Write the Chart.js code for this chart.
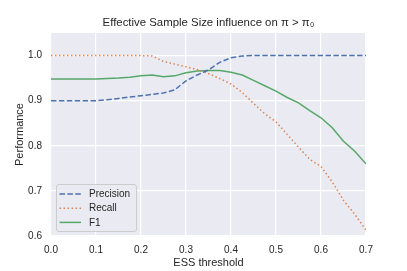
<!DOCTYPE html>
<html>
<head>
<meta charset="utf-8">
<script src="https://cdn.jsdelivr.net/npm/chart.js@4.4.0/dist/chart.umd.min.js"></script>
<style>
  html, body { margin: 0; padding: 0; background: #fff; }
  #chart { display: block; }
</style>
</head>
<body>
<canvas id="chart" width="407" height="271"></canvas>
<script>
const essThreshold = [0.000, 0.025, 0.050, 0.075, 0.100, 0.125, 0.150, 0.175, 0.200, 0.225,
  0.250, 0.275, 0.300, 0.325, 0.350, 0.375, 0.400, 0.425, 0.450, 0.475,
  0.500, 0.525, 0.550, 0.575, 0.600, 0.625, 0.650, 0.675, 0.700];
const precision = [0.900, 0.900, 0.900, 0.900, 0.900, 0.902, 0.905, 0.908, 0.911, 0.914,
  0.917, 0.924, 0.944, 0.957, 0.968, 0.985, 0.995, 0.999, 1.000, 1.000,
  1.000, 1.000, 1.000, 1.000, 1.000, 1.000, 1.000, 1.000, 1.000];
const recall = [1.000, 1.000, 1.000, 1.000, 1.000, 1.000, 1.000, 1.000, 1.000, 0.999,
  0.987, 0.981, 0.975, 0.969, 0.960, 0.949, 0.937, 0.918, 0.894, 0.871,
  0.853, 0.825, 0.797, 0.770, 0.754, 0.720, 0.679, 0.648, 0.613];
const f1 = [0.948, 0.948, 0.948, 0.948, 0.948, 0.949, 0.950, 0.952, 0.955, 0.957,
  0.953, 0.955, 0.962, 0.966, 0.967, 0.967, 0.963, 0.957, 0.945, 0.933,
  0.921, 0.907, 0.895, 0.878, 0.862, 0.840, 0.810, 0.788, 0.760];
const xTicks = [0.0, 0.1, 0.2, 0.3, 0.4, 0.5, 0.6, 0.7];
const yTicks = [0.6, 0.7, 0.8, 0.9, 1.0];
const chartTitle = 'Effective Sample Size influence on \u03C0 > \u03C0\u2080';

const FONT = "'Liberation Sans', Arial, sans-serif";
const TEXT = '#262626';

const toPoints = (ys) => ys.map((y, i) => ({ x: essThreshold[i], y: y }));

// seaborn-like background, title centred on the axes, legend inside the plot
const darkgrid = {
  id: 'darkgrid',
  beforeDraw(chart) {
    const { ctx, chartArea: a } = chart;
    ctx.save();
    ctx.fillStyle = '#EAEAF2';
    ctx.fillRect(a.left, a.top, a.right - a.left, a.bottom - a.top);
    ctx.fillStyle = TEXT;
    ctx.font = '11.4px ' + FONT;
    ctx.textAlign = 'center';
    ctx.textBaseline = 'middle';
    ctx.fillText(chartTitle, (a.left + a.right) / 2, 23);
    ctx.restore();
  },
  afterDatasetsDraw(chart) {
    const { ctx, chartArea: a } = chart;
    const x = a.left + 5, y = a.bottom - 52, w = 80, h = 47;
    ctx.save();
    ctx.beginPath();
    ctx.roundRect(x + 0.5, y + 0.5, w, h, 2.5);
    ctx.fillStyle = 'rgba(234,234,242,0.8)';
    ctx.fill();
    ctx.strokeStyle = '#CCCCCC';
    ctx.lineWidth = 1;
    ctx.stroke();
    ctx.font = '10px ' + FONT;
    ctx.textBaseline = 'middle';
    chart.data.datasets.forEach((ds, i) => {
      const ly = y + 10 + i * 14.2;
      ctx.beginPath();
      ctx.setLineDash(ds.borderDash || []);
      ctx.strokeStyle = ds.borderColor;
      ctx.lineWidth = ds.borderWidth;
      ctx.moveTo(x + 3.5, ly);
      ctx.lineTo(x + 25, ly);
      ctx.stroke();
      ctx.setLineDash([]);
      ctx.fillStyle = TEXT;
      ctx.fillText(ds.label, x + 33, ly + 0.5);
    });
    ctx.restore();
  }
};

const ctx = document.getElementById('chart').getContext('2d');
new Chart(ctx, {
  type: 'line',
  data: {
    datasets: [
      {
        label: 'Precision',
        data: toPoints(precision),
        borderColor: '#4C72B0',
        borderWidth: 1.5,
        borderDash: [5.5, 2.4],
        pointRadius: 0,
        fill: false
      },
      {
        label: 'Recall',
        data: toPoints(recall),
        borderColor: '#DD8452',
        borderWidth: 1.5,
        borderDash: [1.5, 2.5],
        pointRadius: 0,
        fill: false
      },
      {
        label: 'F1',
        data: toPoints(f1),
        borderColor: '#55A868',
        borderWidth: 1.5,
        pointRadius: 0,
        fill: false
      }
    ]
  },
  options: {
    responsive: false,
    animation: false,
    devicePixelRatio: 1,
    layout: { padding: { left: 0, right: 41, top: 33, bottom: 0 } },
    plugins: {
      legend: { display: false },
      tooltip: { enabled: false },
      title: { display: false }
    },
    scales: {
      x: {
        type: 'linear',
        min: 0,
        max: 0.7,
        afterFit: (scale) => { scale.height = 35; },
        afterBuildTicks: (scale) => { scale.ticks = xTicks.map(v => ({ value: v })); },
        border: { display: false },
        grid: { color: '#FFFFFF', lineWidth: 1.2, drawTicks: false },
        ticks: {
          color: TEXT,
          padding: 8,
          font: { family: FONT, size: 10 },
          callback: (v) => v.toFixed(1)
        },
        title: {
          display: true,
          text: 'ESS threshold',
          color: TEXT,
          font: { family: FONT, size: 11 },
          padding: { top: 0, bottom: 1.5 }
        }
      },
      y: {
        type: 'linear',
        min: 0.6,
        max: 1.05,
        afterFit: (scale) => { scale.width = 51; },
        afterBuildTicks: (scale) => { scale.ticks = yTicks.map(v => ({ value: v })); },
        border: { display: false },
        grid: { color: '#FFFFFF', lineWidth: 1.2, drawTicks: false },
        ticks: {
          color: TEXT,
          padding: 9,
          font: { family: FONT, size: 10 },
          callback: (v) => v.toFixed(1)
        },
        title: {
          display: true,
          text: 'Performance',
          color: TEXT,
          font: { family: FONT, size: 11 },
          padding: { top: 13, bottom: 0 }
        }
      }
    }
  },
  plugins: [darkgrid]
});
</script>
</body>
</html>
